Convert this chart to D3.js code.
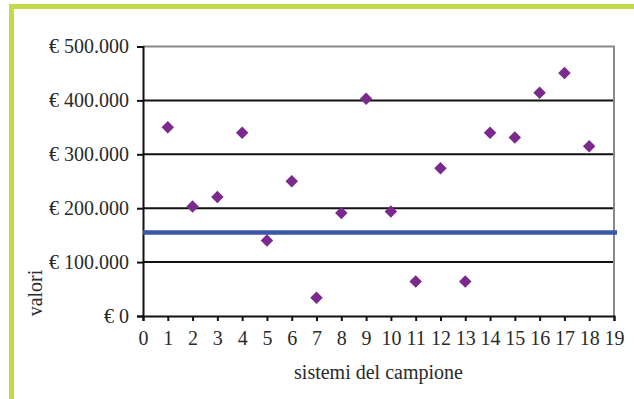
<!DOCTYPE html>
<html>
<head>
<meta charset="utf-8">
<script src="https://cdn.jsdelivr.net/npm/d3@7"></script>
<style>
  html, body { margin: 0; padding: 0; background: #fff; }
  svg { display: block; }
  text { font-family: "Liberation Serif", "DejaVu Serif", serif; fill: #2a2a2a; }
</style>
</head>
<body>
<svg id="chart" width="634" height="399"></svg>
<script>
// sample systems (x) and their values in euro (y)
const systems = [1, 2, 3, 4, 5, 6, 7, 8, 9, 10, 11, 12, 13, 14, 15, 16, 17, 18];
const values = [350000, 203000, 221000, 340000, 140000, 250000, 34000, 191000, 403000,
                194000, 64000, 274000, 64000, 340000, 331000, 414000, 451000, 315000];
// reference level drawn as a horizontal line
const referenceValue = 155000;
const yTicks = [0, 100000, 200000, 300000, 400000, 500000];
const xTicks = d3.range(0, 20);
const xTitle = "sistemi del campione";
const yTitle = "valori";

const svg = d3.select("#chart");
const green = "#c3d84b";

// decorative frame: top and left bars
svg.append("rect").attr("x", 9).attr("y", 4).attr("width", 625).attr("height", 5).attr("fill", green);
svg.append("rect").attr("x", 9).attr("y", 4).attr("width", 5).attr("height", 395).attr("fill", green);

const plot = { left: 143, right: 614, top: 46.5, bottom: 316 };

const x = d3.scaleLinear().domain([0, 19]).range([plot.left, plot.right]);
const y = d3.scaleLinear().domain([0, 500000]).range([plot.bottom, plot.top]);

const euro = v => v === 0 ? "€ 0" : "€ " + d3.format(",")(v).replace(/,/g, ".");

// horizontal gridlines
svg.append("g")
  .selectAll("line")
  .data(yTicks.filter(v => v > 0 && v < 500000))
  .join("line")
  .attr("x1", plot.left).attr("x2", plot.right)
  .attr("y1", d => y(d)).attr("y2", d => y(d))
  .attr("stroke", "#111").attr("stroke-width", 2);

// top and right border of the plot area
svg.append("path")
  .attr("d", `M${plot.left},${y(500000)}H${plot.right}V${plot.bottom}`)
  .attr("fill", "none").attr("stroke", "#8a8a8a").attr("stroke-width", 2);

// y axis
const yAxis = svg.append("g")
  .attr("transform", `translate(${plot.left},0)`)
  .call(d3.axisLeft(y).tickValues(yTicks).tickFormat(euro).tickSize(6).tickPadding(8));
yAxis.select(".domain").attr("stroke", "#111").attr("stroke-width", 2);
yAxis.selectAll(".tick line").attr("stroke", "#111").attr("stroke-width", 2);
yAxis.selectAll("text").attr("font-size", 20).style("font-family", "'Liberation Serif', serif").attr("fill", "#2a2a2a");

// x axis
const xAxis = svg.append("g")
  .attr("transform", `translate(0,${plot.bottom})`)
  .call(d3.axisBottom(x).tickValues(xTicks).tickFormat(d3.format("d")).tickSize(5).tickPadding(10));
xAxis.select(".domain").attr("stroke", "#111").attr("stroke-width", 2);
xAxis.selectAll(".tick line").attr("stroke", "#111").attr("stroke-width", 2);
xAxis.selectAll("text").attr("font-size", 20).style("font-family", "'Liberation Serif', serif").attr("fill", "#2a2a2a");

// reference line
svg.append("line")
  .attr("x1", plot.left).attr("x2", plot.right + 3)
  .attr("y1", y(referenceValue)).attr("y2", y(referenceValue))
  .attr("stroke", "#3a57a8").attr("stroke-width", 4.5);

// data points as diamonds
const diamond = d3.symbol().type(d3.symbolSquare).size(78);
svg.append("g")
  .selectAll("path")
  .data(systems.map((s, i) => ({ s, v: values[i] })))
  .join("path")
  .attr("d", diamond)
  .attr("transform", d => `translate(${x(d.s)},${y(d.v)}) rotate(45)`)
  .attr("fill", "#7a2a8c");

// axis titles
svg.append("text")
  .attr("x", (plot.left + plot.right) / 2).attr("y", 379)
  .attr("text-anchor", "middle").attr("font-size", 20)
  .text(xTitle);

svg.append("text")
  .attr("transform", "translate(42,293) rotate(-90)")
  .attr("text-anchor", "middle").attr("font-size", 20)
  .text(yTitle);
</script>
</body>
</html>
